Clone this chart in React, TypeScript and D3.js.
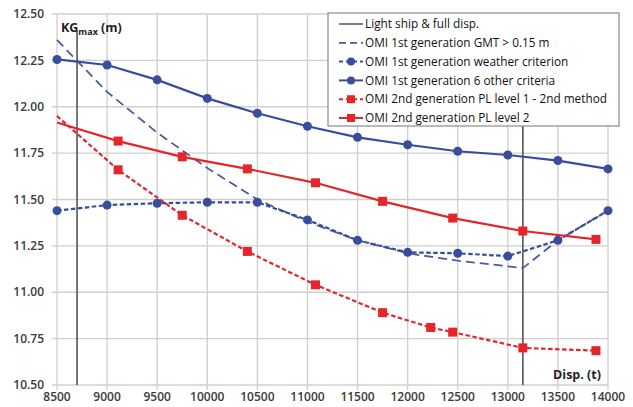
import React from 'react';
import * as d3 from 'd3';

// displacement (t) / KGmax (m)
const xTicks = [8500, 9000, 9500, 10000, 10500, 11000, 11500, 12000, 12500, 13000, 13500, 14000];
const yTicks = [10.5, 10.75, 11.0, 11.25, 11.5, 11.75, 12.0, 12.25, 12.5];

const lightShipDisp = [8700, 13150];
const lightShipKG = [10.5, 12.41];

const gmtDisp = [8500, 9000, 9500, 10000, 10500, 11000, 11500, 12000, 12500, 13000, 13150, 13500, 14000];
const gmtKG = [12.36, 12.08, 11.86, 11.67, 11.5, 11.38, 11.28, 11.21, 11.17, 11.14, 11.13, 11.28, 11.44];

const weatherDisp = [8500, 9000, 9500, 10000, 10500, 11000, 11500, 12000, 12500, 13000, 13500, 14000];
const weatherKG = [11.44, 11.47, 11.48, 11.485, 11.485, 11.39, 11.28, 11.215, 11.21, 11.195, 11.28, 11.44];

const otherDisp = [8500, 9000, 9500, 10000, 10500, 11000, 11500, 12000, 12500, 13000, 13500, 14000];
const otherKG = [12.255, 12.225, 12.145, 12.045, 11.965, 11.895, 11.835, 11.795, 11.76, 11.74, 11.71, 11.665];

const pl1Disp = [8500, 9110, 9750, 10400, 11080, 11750, 12230, 12450, 13150, 13880];
const pl1KG = [11.95, 11.66, 11.415, 11.22, 11.04, 10.89, 10.81, 10.785, 10.7, 10.685];

const pl2Disp = [8500, 9110, 9750, 10400, 11080, 11750, 12450, 13150, 13880];
const pl2KG = [11.915, 11.815, 11.73, 11.665, 11.59, 11.49, 11.4, 11.33, 11.285];

const legendLabels = [
  'Light ship & full disp.',
  'OMI 1st generation GMT > 0.15 m',
  'OMI 1st generation weather criterion',
  'OMI 1st generation 6 other criteria',
  'OMI 2nd generation PL level 1 - 2nd method',
  'OMI 2nd generation PL level 2',
];

const blue = '#3a4c9c';
const blueDash = '#4d5c99';
const red = '#e3262c';
const grid = '#cfcfcf';
const font = 'Open Sans, Liberation Sans, sans-serif';

export default function App() {
  const width = 633;
  const height = 407;
  const x = d3.scaleLinear().domain([8500, 14000]).range([57, 608]);
  const y = d3.scaleLinear().domain([10.5, 12.5]).range([385, 14]);

  const line = d3
    .line<[number, number]>()
    .x((d) => x(d[0]))
    .y((d) => y(d[1]));

  const zip = (a: number[], b: number[]) => a.map((v, i) => [v, b[i]] as [number, number]);

  const gmt = zip(gmtDisp, gmtKG);
  const weather = zip(weatherDisp, weatherKG);
  const other = zip(otherDisp, otherKG);
  const pl1 = zip(pl1Disp, pl1KG);
  const pl2 = zip(pl2Disp, pl2KG);

  const sq = 9;
  const circles = (pts: [number, number][], color: string, key: string) =>
    pts.map((p, i) => <circle key={key + i} cx={x(p[0])} cy={y(p[1])} r={4.5} fill={color} />);
  const squares = (pts: [number, number][], key: string) =>
    pts.map((p, i) => (
      <rect key={key + i} x={x(p[0]) - sq / 2} y={y(p[1]) - sq / 2} width={sq} height={sq} fill={red} />
    ));

  // legend
  const lgX = 328;
  const lgY = 13;
  const lgW = 291;
  const lgH = 113;
  const rowY = (i: number) => lgY + 11 + i * 18.8;
  const sx0 = lgX + 11;
  const sx1 = lgX + 35;

  return (
    <svg width={width} height={height} style={{ position: 'absolute', left: 0, top: 0, background: '#fff' }}>
      {/* grid */}
      {xTicks.map((t) => (
        <line key={'gx' + t} x1={x(t)} x2={x(t)} y1={y(12.5)} y2={y(10.5) + 5} stroke={grid} strokeWidth={1.3} />
      ))}
      {yTicks.map((t) => (
        <line key={'gy' + t} x1={x(8500) - 5} x2={x(14000)} y1={y(t)} y2={y(t)} stroke={grid} strokeWidth={1.3} />
      ))}
      {/* tick labels */}
      {yTicks.map((t) => (
        <text
          key={'ly' + t}
          x={44}
          y={y(t)}
          dy="0.35em"
          textAnchor="end"
          fontFamily={font}
          fontSize={12}
          fontWeight={600}
          fill="#3a3a3a"
        >
          {t.toFixed(2)}
        </text>
      ))}
      {xTicks.map((t) => (
        <text
          key={'lx' + t}
          x={x(t)}
          y={401}
          textAnchor="middle"
          fontFamily={font}
          fontSize={12}
          fontWeight={600}
          fill="#3a3a3a"
        >
          {t}
        </text>
      ))}

      {/* light ship & full displacement */}
      {lightShipDisp.map((d) => (
        <line key={'ls' + d} x1={x(d)} x2={x(d)} y1={y(lightShipKG[1])} y2={y(lightShipKG[0])} stroke="#555" strokeWidth={1.6} />
      ))}

      {/* series */}
      <path d={line(gmt) || ''} fill="none" stroke={blueDash} strokeWidth={1.8} strokeDasharray="9 5" />
      <path d={line(weather) || ''} fill="none" stroke={blue} strokeWidth={2.2} strokeDasharray="4.5 2.5" />
      <path d={line(other) || ''} fill="none" stroke={blue} strokeWidth={2.2} />
      <path d={line(pl1) || ''} fill="none" stroke={red} strokeWidth={2.2} strokeDasharray="4.5 2.5" />
      <path d={line(pl2) || ''} fill="none" stroke={red} strokeWidth={2.2} />
      {circles(weather, blue, 'cw')}
      {circles(other, blue, 'co')}
      {squares(pl1.slice(1), 's1')}
      {squares(pl2.slice(1), 's2')}

      {/* axis titles */}
      <text x={61} y={32} fontFamily={font} fontSize={12.5} fontWeight={700} fill="#222">
        KG
        <tspan fontSize={9} dy={3}>max</tspan>
        <tspan dy={-3}> (m)</tspan>
      </text>
      <text x={601} y={379} textAnchor="end" fontFamily={font} fontSize={12.5} fontWeight={700} fill="#222">
        Disp. (t)
      </text>

      {/* legend */}
      <rect x={lgX} y={lgY} width={lgW} height={lgH} fill="#fff" stroke="#8a8a8a" strokeWidth={1.2} />
      {legendLabels.map((lab, i) => {
        const yy = rowY(i);
        let sample: React.ReactNode = null;
        if (i === 0) sample = <line x1={sx0} x2={sx1} y1={yy} y2={yy} stroke="#555" strokeWidth={1.5} />;
        if (i === 1)
          sample = <line x1={sx0} x2={sx1} y1={yy} y2={yy} stroke={blueDash} strokeWidth={1.8} strokeDasharray="7 4" />;
        if (i === 2)
          sample = (
            <g>
              <line x1={sx0} x2={sx1} y1={yy} y2={yy} stroke={blue} strokeWidth={2} strokeDasharray="4 3" />
              <circle cx={(sx0 + sx1) / 2} cy={yy} r={4} fill={blue} />
            </g>
          );
        if (i === 3)
          sample = (
            <g>
              <line x1={sx0} x2={sx1} y1={yy} y2={yy} stroke={blue} strokeWidth={2} />
              <circle cx={(sx0 + sx1) / 2} cy={yy} r={4} fill={blue} />
            </g>
          );
        if (i === 4)
          sample = (
            <g>
              <line x1={sx0} x2={sx1} y1={yy} y2={yy} stroke={red} strokeWidth={2} strokeDasharray="4 3" />
              <rect x={(sx0 + sx1) / 2 - 4} y={yy - 4} width={8} height={8} fill={red} />
            </g>
          );
        if (i === 5)
          sample = (
            <g>
              <line x1={sx0} x2={sx1} y1={yy} y2={yy} stroke={red} strokeWidth={2} />
              <rect x={(sx0 + sx1) / 2 - 4} y={yy - 4} width={8} height={8} fill={red} />
            </g>
          );
        return (
          <g key={'lg' + i}>
            {sample}
            <text x={sx1 + 2} y={yy} dy="0.35em" fontFamily={font} fontSize={11.8} fill="#111">
              {lab}
            </text>
          </g>
        );
      })}
    </svg>
  );
}
